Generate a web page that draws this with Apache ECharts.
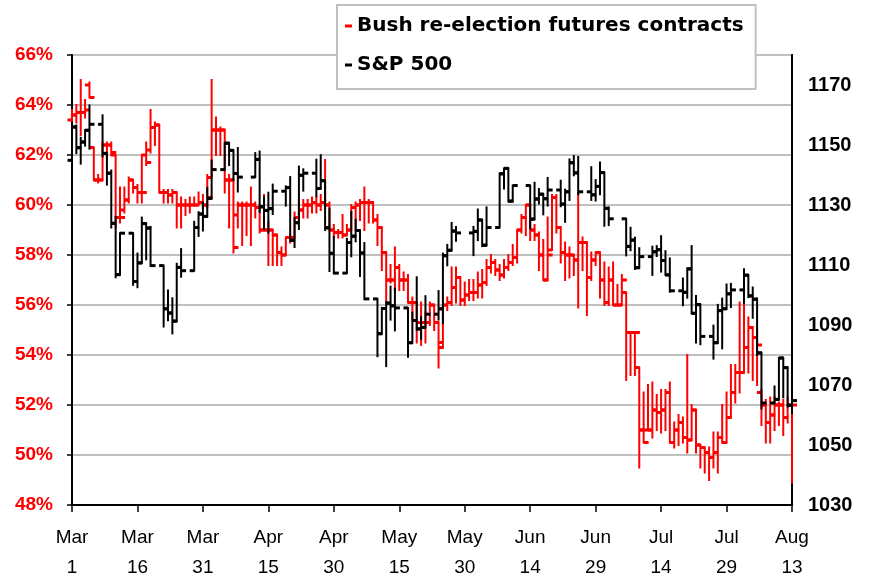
<!DOCTYPE html>
<html>
<head>
<meta charset="utf-8">
<script src="https://cdn.jsdelivr.net/npm/echarts@6/dist/echarts.min.js"></script>
<style>
  html, body { margin: 0; padding: 0; background: #fff; }
  #chart { width: 872px; height: 574px; }
</style>
</head>
<body>
<div id="chart"></div>
<script>
// ---------- DATA ----------
const seriesNames = ['Bush re-election futures contracts', 'S&P 500'];
const monthNames = ['Jan','Feb','Mar','Apr','May','Jun','Jul','Aug','Sep','Oct','Nov','Dec'];
const startDate = '2004-03-01';   // futures contract: one bar per calendar day from this date
const endDate = '2004-08-13';

// Bush re-election futures contracts (%), daily Mar 1 - Aug 13
const futOpen = [63.4,63.6,63.7,63.7,64.8,62.3,61.0,61.0,62.4,62.4, 62.0,59.5,59.8,60.2,61.0,60.7,60.5,62.0,62.2,63.1,
  63.2,60.5,60.5,60.4,60.5,60.0,60.0,60.0,60.0,60.0, 60.1,60.0,61.1,63.0,63.0,63.0,61.0,61.0,59.6,60.0,
  60.0,60.0,60.0,59.9,59.0,59.0,59.0,58.8,58.1,58.0, 58.7,58.7,59.5,59.8,60.0,60.0,60.1,60.0,60.1,60.0,
  59.0,58.9,58.9,58.8,59.0,59.9,60.0,60.1,60.1,60.1, 59.4,59.1,58.1,57.0,57.0,57.5,57.0,57.0,56.1,56.1,
  55.3,55.3,55.3,56.0,55.3,54.5,56.0,56.1,56.7,57.1, 56.2,56.4,56.5,56.5,56.8,56.9,57.5,57.7,57.4,57.2,
  57.5,57.7,57.9,59.0,59.5,60.0,59.0,58.8,58.0,57.0, 58.2,60.3,59.1,58.1,58.0,58.0,57.8,58.5,58.5,57.1,
  57.8,58.1,57.0,56.1,57.0,56.0,56.0,56.5,54.9,54.9, 53.5,51.0,51.0,51.0,51.8,51.7,51.8,52.5,50.5,51.0,
  51.3,50.7,50.6,51.8,50.4,50.3,50.1,49.9,50.1,50.7, 50.5,51.5,52.5,53.3,53.3,54.3,55.1,54.7,52.5,52.0,
  51.3,51.6,52.0,52.0,51.5,52.0];
const futHigh = [63.8,64.0,65.0,64.2,64.9,62.3,61.2,62.5,62.5,62.5, 62.0,60.7,60.7,61.1,61.0,60.8,62.0,62.5,63.8,63.3,
  63.2,60.6,60.6,60.6,60.5,60.3,60.2,60.3,60.3,60.5, 60.4,61.2,65.0,63.5,63.1,63.0,61.2,61.0,60.1,60.1,
  60.1,60.7,60.1,60.0,60.4,59.3,59.0,58.8,58.3,58.7, 58.8,59.7,60.2,60.2,60.2,60.3,60.3,60.4,61.8,60.1,
  59.2,59.0,59.6,59.2,60.0,60.1,60.2,60.7,60.2,60.1, 59.6,59.1,58.1,57.6,58.3,57.6,57.3,57.2,56.3,56.1,
  56.1,55.7,56.1,56.0,55.3,56.0,56.3,57.5,57.5,57.1, 56.9,57.0,57.0,57.3,57.4,57.8,58.0,57.8,57.6,57.8,
  58.0,58.4,59.0,59.6,60.0,60.0,59.2,58.9,58.6,59.5, 60.4,60.4,59.1,58.5,58.3,58.0,60.5,58.7,58.5,58.1,
  58.1,58.1,57.7,57.5,57.7,56.8,57.2,56.5,54.9,54.9, 53.5,52.5,52.8,52.9,52.4,52.6,52.6,52.9,51.3,51.6,
  51.5,54.0,52.0,51.8,50.4,50.3,50.3,50.9,50.9,52.0, 52.5,53.6,53.6,56.1,56.3,55.5,55.1,55.0,52.6,52.2,
  52.3,52.3,52.1,52.2,52.3,52.0];
const futLow = [63.3,63.3,62.8,63.5,64.3,61.0,60.9,61.0,61.8,62.0, 59.1,59.3,59.7,60.1,60.5,60.1,60.1,61.6,62.1,62.4,
  60.5,60.1,60.1,60.1,59.1,59.1,59.6,59.7,60.0,60.0, 59.9,59.9,61.1,62.0,62.0,60.5,59.1,58.1,59.1,58.4,
  58.8,58.4,59.5,58.9,59.0,57.6,57.6,57.6,57.6,58.0, 58.5,58.7,59.4,59.5,59.5,59.7,59.7,59.8,60.0,59.0,
  58.7,58.7,58.7,58.8,59.0,59.0,59.4,59.0,59.3,59.3, 58.4,57.4,56.1,56.9,56.6,56.6,56.6,56.1,55.4,54.5,
  54.4,54.5,55.2,55.0,53.5,54.3,55.8,56.0,56.1,56.0, 56.0,56.2,56.2,56.3,56.3,56.8,57.3,57.2,57.0,57.1,
  57.4,57.6,57.7,58.9,58.8,58.6,58.6,57.4,57.0,57.0, 58.2,58.9,57.7,57.0,57.1,57.2,55.9,57.4,55.6,57.0,
  57.6,56.3,56.0,56.0,56.0,56.0,56.0,53.0,53.2,53.2, 49.5,50.5,51.0,50.7,51.0,50.9,51.0,50.5,50.3,50.4,
  50.5,50.1,50.6,50.1,49.5,49.3,49.0,49.5,49.3,50.5, 50.5,51.5,52.1,52.5,53.3,53.3,53.0,52.8,51.2,50.5,
  50.5,51.0,51.2,50.8,51.3,48.9];
const futClose = [63.6,63.7,63.7,63.8,64.3,61.0,61.0,62.4,62.4,62.1, 59.5,59.5,60.2,61.0,60.7,60.5,60.5,61.7,63.1,63.2,
  60.5,60.5,60.4,60.5,60.0,60.0,60.0,60.0,60.0,60.1, 60.0,60.3,63.0,63.0,63.0,61.0,61.0,58.3,60.0,60.0,
  60.0,60.0,59.9,59.0,59.0,59.0,58.8,58.1,58.0,58.7, 58.7,59.5,59.8,60.0,60.0,60.1,60.0,60.1,60.0,59.0,
  58.9,58.9,58.8,59.0,59.9,60.0,60.1,60.1,60.1,59.4, 59.1,58.1,57.0,57.0,57.5,57.0,57.0,56.1,56.1,55.3,
  55.3,55.3,56.0,55.3,54.3,56.0,56.1,56.7,57.1,56.2, 56.4,56.5,56.5,56.8,56.9,57.5,57.7,57.4,57.2,57.5,
  57.7,57.9,59.0,59.5,60.0,59.0,58.8,58.0,57.0,58.0, 60.3,59.1,58.1,58.0,58.0,57.8,58.5,58.5,57.1,57.8,
  58.1,57.0,56.1,57.0,56.0,56.0,57.0,54.9,54.9,54.9, 51.0,50.5,51.0,51.8,51.7,51.8,52.5,50.5,51.0,51.3,
  50.7,50.6,51.8,50.4,50.3,50.1,49.9,50.1,50.7,50.5, 51.5,52.5,53.3,53.3,54.3,55.1,54.7,54.4,52.0,51.3,
  51.6,52.0,52.0,51.5,52.0,52.0];

// S&P 500, trading days
const spDates = ['03-01','03-02','03-03','03-04','03-05','03-08','03-09','03-10','03-11','03-12','03-15','03-16','03-17','03-18','03-19','03-22','03-23','03-24','03-25','03-26','03-29','03-30','03-31',
  '04-01','04-02','04-05','04-06','04-07','04-08','04-12','04-13','04-14','04-15','04-16','04-19','04-20','04-21','04-22','04-23','04-26','04-27','04-28','04-29','04-30',
  '05-03','05-04','05-05','05-06','05-07','05-10','05-11','05-12','05-13','05-14','05-17','05-18','05-19','05-20','05-21','05-24','05-25','05-26','05-27','05-28',
  '06-01','06-02','06-03','06-04','06-07','06-08','06-09','06-10','06-14','06-15','06-16','06-17','06-18','06-21','06-22','06-23','06-24','06-25','06-28','06-29','06-30',
  '07-01','07-02','07-06','07-07','07-08','07-09','07-12','07-13','07-14','07-15','07-16','07-19','07-20','07-21','07-22','07-23','07-26','07-27','07-28','07-29','07-30',
  '08-02','08-03','08-04','08-05','08-06','08-09','08-10','08-11','08-12','08-13'];
const spOpen = [1144.9,1156.0,1149.1,1151.0,1154.9,1156.9,1147.2,1140.6,1123.9,1106.8,1120.6,1104.5,1110.7,1123.8,1122.3,1109.8,1095.4,1094.0,1091.3,1109.2,1108.1,1122.5,1127.0,
  1126.2,1132.2,1141.8,1150.6,1148.2,1140.5,1139.3,1145.2,1129.4,1128.2,1128.8,1134.6,1135.8,1118.2,1124.1,1139.9,1140.6,1135.5,1138.1,1122.4,1113.9,
  1107.3,1117.5,1119.6,1121.5,1114.0,1098.7,1087.1,1095.5,1097.3,1096.4,1095.7,1084.1,1091.5,1088.7,1089.2,1093.6,1095.4,1113.1,1114.9,1121.3,
  1120.7,1121.2,1125.0,1116.6,1122.5,1140.4,1142.2,1131.3,1136.5,1125.3,1132.0,1133.6,1132.1,1135.0,1130.3,1134.4,1144.1,1140.7,1134.4,1133.4,1136.2,
  1140.8,1128.9,1125.4,1116.2,1118.3,1109.1,1112.8,1114.4,1115.1,1111.5,1106.7,1101.4,1100.9,1108.7,1093.9,1096.8,1086.2,1084.1,1094.8,1095.4,1100.4,
  1101.7,1106.6,1099.7,1098.6,1080.7,1064.0,1065.2,1079.0,1075.8,1063.2];
const spHigh = [1157.5,1156.5,1152.4,1155.0,1163.2,1159.9,1147.3,1141.5,1126.0,1120.6,1120.6,1113.8,1125.8,1123.8,1122.7,1109.8,1101.5,1098.9,1110.4,1115.3,1124.4,1127.6,1130.8,
  1135.7,1144.8,1150.6,1150.6,1148.2,1149.0,1147.3,1147.8,1132.5,1134.1,1136.8,1136.2,1139.3,1125.7,1142.8,1141.9,1145.1,1146.6,1138.1,1128.8,1119.3,
  1118.7,1127.7,1125.1,1121.5,1117.3,1098.7,1095.7,1097.6,1102.8,1102.1,1095.7,1094.1,1105.9,1092.6,1099.6,1101.3,1113.8,1116.7,1124.0,1122.7,
  1122.7,1128.5,1125.0,1129.2,1140.5,1142.2,1142.2,1136.5,1136.5,1137.4,1135.3,1133.6,1139.0,1138.1,1135.1,1145.2,1146.3,1146.0,1142.6,1138.3,1144.2,
  1140.8,1129.2,1125.4,1122.4,1119.1,1115.6,1116.1,1116.3,1119.6,1114.6,1112.2,1105.5,1108.9,1116.3,1099.7,1096.8,1089.8,1096.7,1098.8,1103.5,1103.7,
  1108.6,1106.6,1102.5,1098.8,1080.7,1069.5,1079.0,1079.0,1075.8,1067.6];
const spLow = [1144.9,1147.3,1143.8,1149.8,1148.8,1146.2,1136.8,1122.5,1105.9,1106.8,1103.4,1102.6,1110.7,1111.9,1109.7,1089.5,1091.6,1087.2,1091.3,1106.1,1108.1,1119.7,1121.5,
  1126.2,1132.2,1141.6,1143.3,1138.4,1134.5,1139.3,1127.7,1122.2,1120.8,1127.0,1129.8,1118.1,1116.0,1122.0,1134.8,1132.9,1135.5,1121.7,1108.0,1107.2,
  1107.3,1112.9,1117.9,1106.3,1098.6,1079.6,1087.1,1076.3,1091.8,1088.2,1079.4,1084.1,1088.5,1085.4,1089.2,1091.8,1090.7,1109.9,1114.9,1118.1,
  1113.3,1118.3,1116.3,1116.6,1122.5,1135.5,1131.2,1131.2,1122.2,1125.3,1130.5,1126.9,1129.8,1129.6,1124.4,1131.7,1139.9,1133.6,1131.7,1131.5,1133.6,
  1123.1,1123.3,1113.2,1114.9,1108.7,1109.1,1106.7,1113.0,1107.8,1106.7,1101.1,1096.6,1099.1,1093.9,1084.2,1083.6,1078.8,1084.1,1082.2,1095.4,1096.0,
  1097.3,1099.3,1092.4,1080.0,1062.2,1064.0,1065.2,1065.9,1062.8,1060.7];
const spClose = [1156.0,1149.1,1151.0,1154.9,1156.9,1147.2,1140.6,1123.9,1106.8,1120.6,1104.5,1110.7,1123.8,1122.3,1109.8,1095.4,1094.0,1091.3,1109.2,1108.1,1122.5,1127.0,1126.2,
  1132.2,1141.8,1150.6,1148.2,1140.5,1139.3,1145.2,1129.4,1128.2,1128.8,1134.6,1135.8,1118.2,1124.1,1139.9,1140.6,1135.5,1138.1,1122.4,1113.9,1107.3,
  1117.5,1119.6,1121.5,1114.0,1098.7,1087.1,1095.5,1097.3,1096.4,1095.7,1084.1,1091.5,1088.7,1089.2,1093.6,1095.4,1113.1,1114.9,1121.3,1120.7,
  1121.2,1125.0,1116.6,1122.5,1140.4,1142.2,1131.3,1136.5,1125.3,1132.0,1133.6,1132.1,1135.0,1130.3,1134.4,1144.1,1140.7,1134.4,1133.4,1136.2,1140.8,
  1128.9,1125.4,1116.2,1118.3,1109.1,1112.8,1114.4,1115.1,1111.5,1106.7,1101.4,1100.9,1108.7,1093.9,1096.8,1086.2,1084.1,1094.8,1095.4,1100.4,1101.7,
  1106.6,1099.7,1098.6,1080.7,1064.0,1065.2,1079.0,1075.8,1063.2,1064.8];

// ---------- BUILD ----------
const DAY = 86400000;
const t0 = Date.parse(startDate + 'T00:00:00Z');
const tEnd = Date.parse(endDate + 'T00:00:00Z');
const totalDays = Math.round((tEnd - t0) / DAY);
function dayOffset(mmdd) {
  return Math.round((Date.parse('2004-' + mmdd + 'T00:00:00Z') - t0) / DAY);
}
const futData = futClose.map((c, i) => [i, futOpen[i], futHigh[i], futLow[i], c]);
const spData = spClose.map((c, i) => [dayOffset(spDates[i]), spOpen[i], spHigh[i], spLow[i], c]);

function ohlcItem(params, api) {
  const x = api.value(0);
  const po = api.coord([x, api.value(1)]);
  const ph = api.coord([x, api.value(2)]);
  const pl = api.coord([x, api.value(3)]);
  const pc = api.coord([x, api.value(4)]);
  const color = api.visual('color');
  return {
    type: 'group',
    children: [
      { type: 'line', shape: { x1: ph[0], y1: ph[1] - 1, x2: pl[0], y2: pl[1] + 1 }, style: { stroke: color, lineWidth: 2 } },
      { type: 'line', shape: { x1: po[0] - 4.5, y1: po[1], x2: po[0], y2: po[1] }, style: { stroke: color, lineWidth: 3 } },
      { type: 'line', shape: { x1: pc[0], y1: pc[1], x2: pc[0] + 5, y2: pc[1] }, style: { stroke: color, lineWidth: 3 } }
    ]
  };
}

const FONT = 'Liberation Sans, Arial, sans-serif';
const chart = echarts.init(document.getElementById('chart'), null, { renderer: 'canvas' });
chart.setOption({
  animation: false,
  backgroundColor: '#ffffff',
  grid: { left: 72, right: 80, top: 55, bottom: 69, show: true, borderColor: '#000', borderWidth: 2,
    backgroundColor: 'transparent', containLabel: false, outerBoundsMode: 'none' },
  legend: {
    orient: 'vertical', left: 337, top: 5,
    icon: 'rect', itemWidth: 7, itemHeight: 3, itemGap: 19,
    padding: [11, 12, 14, 8],
    backgroundColor: '#fff', borderColor: '#c0c0c0', borderWidth: 2, borderRadius: 0,
    textStyle: { fontFamily: 'DejaVu Sans', fontWeight: 'bold', fontSize: 20, color: '#000' },
    data: seriesNames
  },
  xAxis: {
    type: 'value', min: 0, max: totalDays, interval: 15, position: 'bottom',
    axisLine: { lineStyle: { color: '#000', width: 2 } },
    axisTick: { show: true, length: 7, lineStyle: { color: '#000', width: 1.5 } },
    splitLine: { show: false },
    axisLabel: {
      fontFamily: FONT, fontSize: 19, color: '#000', lineHeight: 30, margin: 18,
      formatter: function (v) {
        const d = new Date(t0 + v * DAY);
        return monthNames[d.getUTCMonth()] + '\n' + d.getUTCDate();
      }
    }
  },
  yAxis: [
    {
      type: 'value', min: 48, max: 66, interval: 2, position: 'left',
      axisLine: { show: true, lineStyle: { color: '#000', width: 2 } },
      axisTick: { show: true, length: 5, lineStyle: { color: '#000', width: 1.5 } },
      splitLine: { show: true, lineStyle: { color: '#c0c0c0', width: 2 } },
      axisLabel: { fontFamily: FONT, fontSize: 19, fontWeight: 'bold', color: '#ff0000', margin: 19, formatter: '{value}%' }
    },
    {
      type: 'value', min: 1030, max: 1180, interval: 20, position: 'right',
      axisLine: { show: true, lineStyle: { color: '#000', width: 2 } },
      axisTick: { show: false },
      splitLine: { show: false },
      axisLabel: { fontFamily: FONT, fontSize: 20, fontWeight: 'bold', color: '#000', margin: 16, showMaxLabel: false,
        formatter: function (v) { return v >= 1180 ? '' : String(v); } }
    }
  ],
  series: [
    { name: seriesNames[0], type: 'custom', xAxisIndex: 0, yAxisIndex: 0, renderItem: ohlcItem,
      encode: { x: 0, y: [1, 2, 3, 4] }, data: futData, itemStyle: { color: '#ff0000' }, z: 2 },
    { name: seriesNames[1], type: 'custom', xAxisIndex: 0, yAxisIndex: 1, renderItem: ohlcItem,
      encode: { x: 0, y: [1, 2, 3, 4] }, data: spData, itemStyle: { color: '#000000' }, z: 3 }
  ]
});
</script>
</body>
</html>
